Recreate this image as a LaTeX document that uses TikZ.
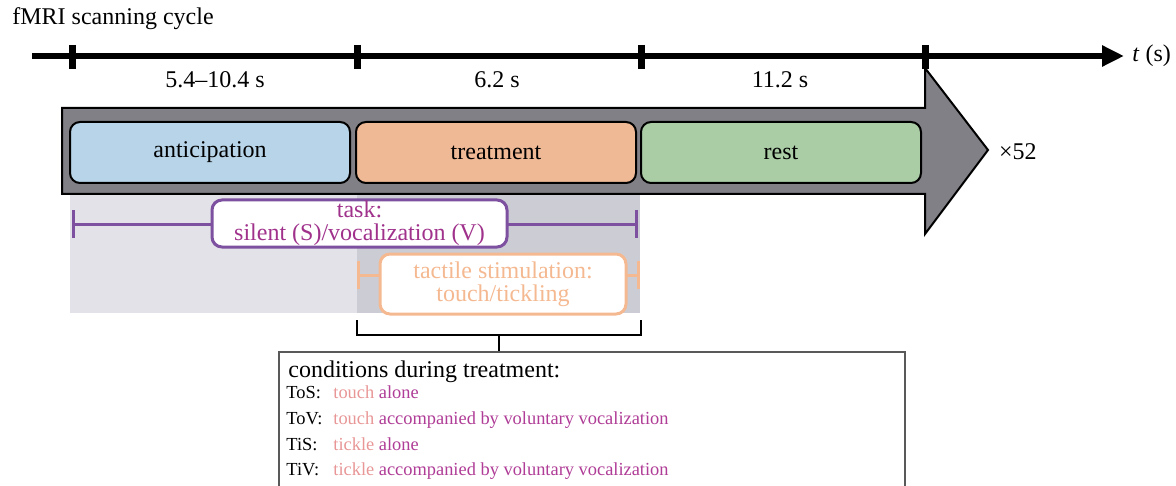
\documentclass[tikz,border=0pt]{standalone}
\usepackage{fontspec}
\setmainfont{Liberation Serif}
\usepackage{xcolor}
\usetikzlibrary{arrows.meta,positioning,calc}

\definecolor{antblue}{RGB}{183,212,232}
\definecolor{treatorange}{RGB}{240,185,150}
\definecolor{restgreen}{RGB}{170,205,165}
\definecolor{arrowgray}{RGB}{128,128,134}
\definecolor{lightbg}{RGB}{226,226,232}
\definecolor{darkbg}{RGB}{204,205,212}
\definecolor{taskpurple}{RGB}{125,80,160}
\definecolor{taskmag}{RGB}{160,50,140}
\definecolor{tactpeach}{RGB}{245,185,145}
\definecolor{touchpink}{RGB}{232,150,150}
\definecolor{condmag}{RGB}{175,60,150}

\begin{document}
\begin{tikzpicture}[x=0.5pt,y=-0.5pt,
  font=\fontsize{12}{11.5}\selectfont,
  phase/.style={draw, line width=1pt, rounded corners=5pt, minimum width=140pt,
                minimum height=30.5pt, align=center},
  tagbox/.style={draw, fill=white, line width=1.5pt, rounded corners=5pt, align=center,
                 inner sep=0pt},
  span/.style={{Bar[width=14pt]}-{Bar[width=14pt]}, line width=1.5pt},
  condrow/.style={anchor=base west, inner sep=0pt, font=\fontsize{9.2}{10}\selectfont}
]
\useasboundingbox (0,0) rectangle (1176,486);

% time axis
\node[anchor=base west, inner sep=0pt] (fmri) at (12,25) {fMRI scanning cycle};
\coordinate (axstart) at (32,56);
\coordinate (axend) at (1124,56);
\draw[line width=3pt, -{Triangle[length=11pt,width=10pt]}] (axstart) -- (axend);
\node[anchor=west, inner sep=0pt] (tlabel) at (1132,56) {\textit{t} (s)};
\foreach \x/\n in {72/a,357/b,641/c,925/d}{
  \coordinate (tick\n) at (\x,56);
  \draw[line width=3.5pt] (\x,45) -- (\x,69);
}
\node (dur1) at (215,80) {5.4--10.4 s};
\node (dur2) at (497,80) {6.2 s};
\node (dur3) at (780,80) {11.2 s};

% grey backgrounds
\fill[lightbg] (70,195) rectangle (357,313);
\fill[darkbg] (357,195) rectangle (640,313);

% big arrow
\draw[fill=arrowgray, line width=1pt] (62,108) -- (925,108) -- (925,68) -- (988,150)
  -- (925,234) -- (925,194) -- (62,194) -- cycle;
\node[anchor=west] (reps) at (992,152) {×52};

\node[phase, fill=antblue] (antic) at (210,152.5) {anticipation};
\node[phase, fill=treatorange] (treat) at (496,152.5) {treatment};
\node[phase, fill=restgreen] (rest) at (781,152.5) {rest};

% task and stimulation spans
\draw[span, taskpurple] (72,224) -- (638,224);
\node[tagbox, draw=taskpurple, minimum width=147.5pt, minimum height=23.5pt,
      text=taskmag] (task) at (359.5,223.5) {task:\\silent (S)/vocalization (V)};
\draw[span, tactpeach] (357,275) -- (640,275);
\node[tagbox, draw=tactpeach, text=tactpeach, minimum width=123pt, minimum height=30pt]
      (tact) at (503,284) {tactile stimulation:\\touch/tickling};

% bracket
\draw[line width=1pt] (357,320) |- (641,335) -- (641,320);
\coordinate (brmid) at (499,335);

% conditions box
\coordinate (condtop) at (499,352);
\draw[line width=1pt] (brmid) -- (condtop);
\draw[black!65, line width=0.6pt] (279,490) |- (905,352) -- (905,490);
\node[anchor=base west, inner sep=0pt] (condtitle) at (288,377) {conditions during treatment:};
\node[condrow] (tos) at (286,398) {\makebox[23.5pt][l]{ToS:}\textcolor{touchpink}{touch} \textcolor{condmag}{alone}};
\node[condrow] (tov) at (286,424) {\makebox[23.5pt][l]{ToV:}\textcolor{touchpink}{touch} \textcolor{condmag}{accompanied by voluntary vocalization}};
\node[condrow] (tis) at (286,450) {\makebox[23.5pt][l]{TiS:}\textcolor{touchpink}{tickle} \textcolor{condmag}{alone}};
\node[condrow] (tiv) at (286,475) {\makebox[23.5pt][l]{TiV:}\textcolor{touchpink}{tickle} \textcolor{condmag}{accompanied by voluntary vocalization}};
\end{tikzpicture}
\end{document}
